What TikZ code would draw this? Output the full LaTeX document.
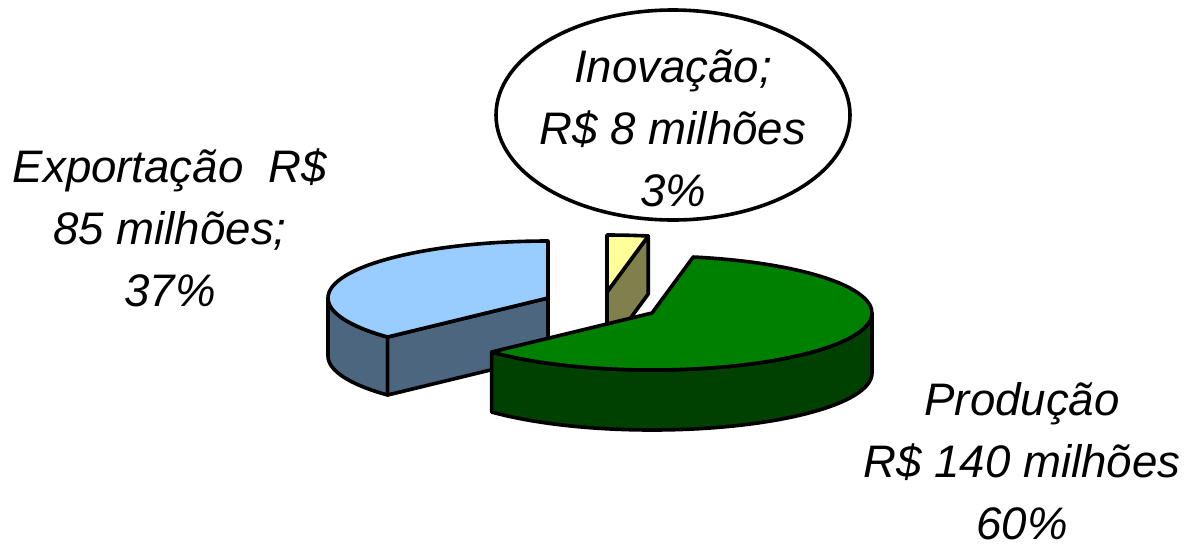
\documentclass[tikz,border=0pt]{standalone}
\usepackage{fontspec}
\setmainfont{Liberation Sans}
\usepackage{tikz}
\usepackage{xcolor}

\definecolor{expTop}{HTML}{99CCFF}
\definecolor{expSide}{HTML}{4D6680}
\definecolor{inovTop}{HTML}{FFFF99}
\definecolor{inovSide}{HTML}{80804D}
\definecolor{prodTop}{HTML}{008000}
\definecolor{prodSide}{HTML}{004000}

\begin{document}
\begin{tikzpicture}[x=0.5pt, y=0.5pt, line width=1.8pt, line join=round,
    lbl/.style={align=center, inner sep=0pt, font=\fontsize{22.8}{31}\selectfont\itshape}]
            \useasboundingbox (0, 0) rectangle (1192, -547);

            \coordinate (expC) at (548, -298);
            \coordinate (inovC) at (607, -292);
            \coordinate (prodC) at (652, -313);

            % Exportacao slice
            \draw[fill=expSide] (expC) ++(180:220 and 57)
                arc[start angle=180, end angle=223.2, x radius=220, y radius=57]
                -- ++(0, -58)
                arc[start angle=223.2, end angle=180, x radius=220, y radius=57] -- cycle;
            \draw[fill=expSide] (expC) -- ++(223.2:220 and 57) -- ++(0, -58)
                -- ([yshift=-29pt]expC) -- cycle;
            \draw[fill=expTop] (expC) -- ++(90:220 and 57)
                arc[start angle=90, end angle=223.2, x radius=220, y radius=57] -- cycle;

            % Inovacao slice
            \draw[fill=inovSide] (inovC) -- ++(79.2:220 and 57) -- ++(0, -58)
                -- ([yshift=-29pt]inovC) -- cycle;
            \draw[fill=inovTop] (inovC) -- ++(79.2:220 and 57)
                arc[start angle=79.2, end angle=90, x radius=220, y radius=57] -- cycle;

            % Producao slice
            \draw[fill=prodSide] (prodC) ++(223.2:220 and 57)
                arc[start angle=223.2, end angle=360, x radius=220, y radius=57]
                -- ++(0, -60)
                arc[start angle=360, end angle=223.2, x radius=220, y radius=57] -- cycle;
            \draw[fill=prodTop] (prodC) -- ++(223.2:220 and 57)
                arc[start angle=223.2, end angle=439.2, x radius=220, y radius=57] -- cycle;

            % labels
            \draw[fill=white] (673, -115) ellipse [x radius=177, y radius=105];
            \node[lbl] (inovLbl) at (673, -128) {Inovação;\\R\$ 8 milhões\\3\%};
            \node[lbl] (expLbl) at (170, -228) {Exportação~~R\$\\85 milhões;\\37\%};
            \node[lbl] (prodLbl) at (1022, -461) {Produção\\R\$ 140 milhões\\60\%};
        \end{tikzpicture}
\end{document}
